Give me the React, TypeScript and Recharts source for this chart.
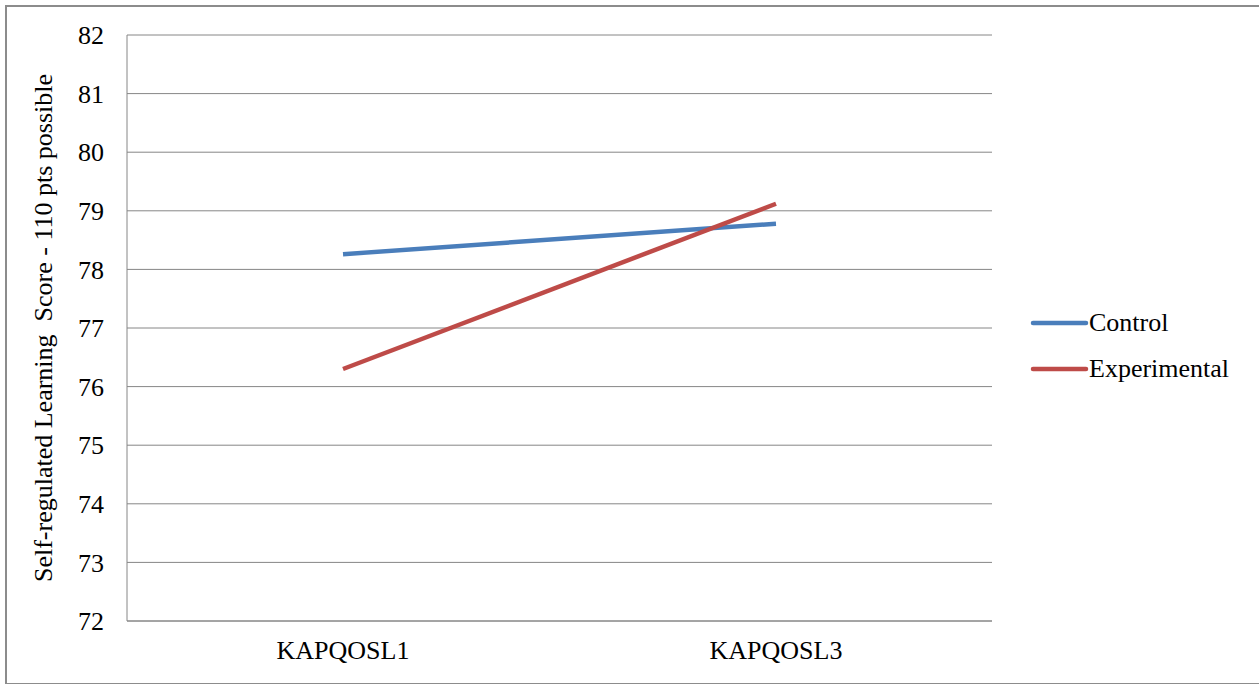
import React from "react";
import { LineChart, Line, XAxis, YAxis, CartesianGrid } from "recharts";

const categories = ["KAPQOSL1", "KAPQOSL3"];
const control = [78.26, 78.78];
const experimental = [76.3, 79.12];
const yTicks = [72, 73, 74, 75, 76, 77, 78, 79, 80, 81, 82];

const seriesNames = ["Control", "Experimental"];
const seriesColors = ["#4A7EBB", "#BE4B48"];

const data = categories.map((name, i) => ({
  name,
  Control: control[i],
  Experimental: experimental[i],
}));

const font = '"Liberation Serif", "Times New Roman", serif';
const fs = 26;

function LegendBox() {
  return (
    <div
      style={{
        position: "absolute",
        left: 1029,
        top: 300,
        fontFamily: font,
        fontSize: fs,
        color: "#000",
      }}
    >
      {seriesNames.map((n, i) => (
        <div key={n} style={{ display: "flex", alignItems: "center", height: 46 }}>
          <svg width={60} height={10}>
            <line x1={4} y1={5} x2={57} y2={5} stroke={seriesColors[i]} strokeWidth={4.5} strokeLinecap="round" />
          </svg>
          <span>{n}</span>
        </div>
      ))}
    </div>
  );
}

export default function App() {
  return (
    <div style={{ position: "absolute", left: 0, top: 0, width: 1259, height: 684, background: "#fff", overflow: "hidden", fontFamily: font }}>
      <div
        style={{
          position: "absolute",
          left: 5,
          top: 5,
          width: 1270,
          height: 676,
          border: "2px solid #8c8c8c",
        }}
      />
      <div style={{ position: "absolute", left: 0, top: 0 }}>
        <LineChart
          width={1259}
          height={684}
          data={data}
          margin={{ top: 35, right: 267, bottom: 0, left: 0 }}
          style={{ fontFamily: font }}
        >
          <CartesianGrid vertical={false} stroke="#868686" strokeWidth={1} />
          <XAxis
            dataKey="name"
            padding={{ left: 216, right: 216 }}
            tickLine={false}
            axisLine={{ stroke: "#868686", strokeWidth: 1 }}
            tick={{ fill: "#000", fontSize: fs, fontFamily: font }}
            tickMargin={14}
            height={63}
          />
          <YAxis
            domain={[72, 82]}
            ticks={yTicks}
            interval={0}
            width={127}
            tickLine={false}
            axisLine={{ stroke: "#868686", strokeWidth: 1 }}
            tick={{ fill: "#000", fontSize: fs, fontFamily: font }}
            tickMargin={17}
            label={{
              value: "Self-regulated Learning\u00A0 Score - 110 pts possible",
              angle: -90,
              position: "center",
              dx: -21,
              dy: 0,
              style: { fill: "#000", fontSize: fs, fontFamily: font, textAnchor: "middle" },
            }}
          />
          <Line
            type="linear"
            dataKey="Control"
            stroke={seriesColors[0]}
            strokeWidth={4.5}
            dot={false}
            isAnimationActive={false}
          />
          <Line
            type="linear"
            dataKey="Experimental"
            stroke={seriesColors[1]}
            strokeWidth={4.5}
            dot={false}
            isAnimationActive={false}
          />
        </LineChart>
      </div>
      <LegendBox />
    </div>
  );
}
